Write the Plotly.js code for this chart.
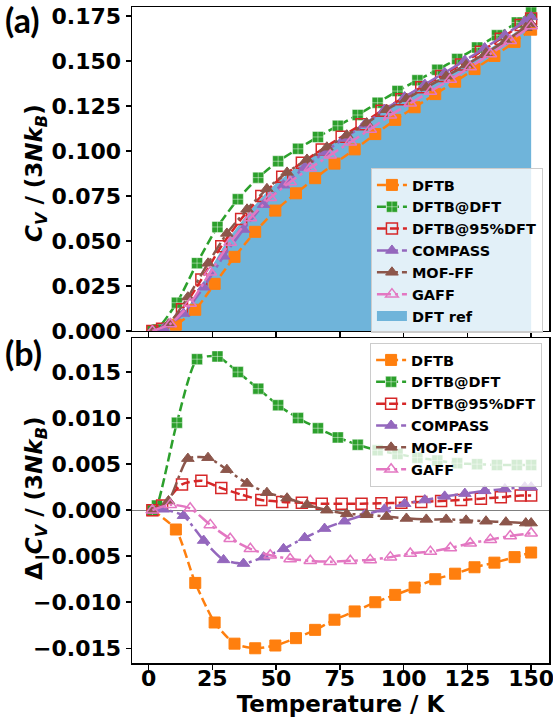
<!DOCTYPE html>
<html><head><meta charset="utf-8">
<script src="https://cdn.plot.ly/plotly-3.0.1.min.js"></script>
<style>html,body{margin:0;padding:0;background:#fff}#chart{width:553px;height:717px}</style>
</head><body><div id="chart"></div>
<script>
// ---------- data ----------
const xTicks = [0, 25, 50, 75, 100, 125, 150];
const cvTicks = [0, 0.025, 0.05, 0.075, 0.1, 0.125, 0.15, 0.175];
const dcvTicks = [-0.015, -0.01, -0.005, 0, 0.005, 0.01, 0.015];

const seriesNames = ['DFTB', 'DFTB@DFT', 'DFTB@95%DFT', 'COMPASS', 'MOF-FF', 'GAFF'];
const refName = 'DFT ref';
const xTitle = 'Temperature / K';
const yTitleTop = '<i>C</i><sub><i>V</i></sub> / (3<i>Nk</i><sub><i>B</i></sub>)';
const yTitleBottom = 'Δ <i>C</i><sub><i>V</i></sub> / (3<i>Nk</i><sub><i>B</i></sub>)';

// DFT reference heat capacity
const T_ref = [1.5, 5, 10, 15, 20, 25, 30, 35, 40, 45, 50, 55, 60, 65, 70, 75, 80, 85, 90, 95, 100, 105, 110, 115, 120, 125, 130, 135, 140, 145, 150];
const cv_ref = [0, 0.0006, 0.0045, 0.0123, 0.0235, 0.0362, 0.0484, 0.0582, 0.0672, 0.0752, 0.0820, 0.0876, 0.0926, 0.0976, 0.1022, 0.1068, 0.1112, 0.1158, 0.1203, 0.1248, 0.1291, 0.1333, 0.1372, 0.1411, 0.1452, 0.1493, 0.1535, 0.1580, 0.1625, 0.1670, 0.1720];

// DFTB
const T_dftb = [1.5, 10.7, 18.3, 25.9, 33.7, 41.8, 49.7, 57.8, 65.3, 72.9, 80.8, 88.9, 96.7, 104.3, 112.4, 120.2, 127.8, 135.6, 143.5, 150];
const cv_dftb = [0, 0.0035, 0.0118, 0.0262, 0.0412, 0.0551, 0.0669, 0.0765, 0.0849, 0.0930, 0.1009, 0.1094, 0.1173, 0.1243, 0.1316, 0.1385, 0.1455, 0.1528, 0.1606, 0.1674];
const dcv_dftb = [0, -0.0021, -0.0079, -0.0122, -0.0145, -0.0150, -0.0147, -0.0139, -0.0130, -0.0119, -0.0110, -0.0100, -0.0092, -0.0084, -0.0075, -0.0069, -0.0062, -0.0057, -0.0051, -0.0046];

// DFTB@DFT
const T_dftbdft = [1.5, 3.3, 11.1, 19.0, 27.0, 35.0, 43.0, 50.8, 58.6, 66.4, 74.2, 82.0, 89.8, 97.6, 105.4, 113.2, 121.0, 128.8, 136.6, 144.4, 150];
const cv_dftbdft = [0, 0.0008, 0.0157, 0.0377, 0.0578, 0.0732, 0.0852, 0.0943, 0.1012, 0.1078, 0.1140, 0.1200, 0.1268, 0.1333, 0.1393, 0.1451, 0.1511, 0.1575, 0.1643, 0.1714, 0.1769];
const dcv_dftbdft = [0, 0.0005, 0.0095, 0.0164, 0.0167, 0.0150, 0.0132, 0.0114, 0.0100, 0.0089, 0.0079, 0.0071, 0.0065, 0.0061, 0.0057, 0.0054, 0.0051, 0.0050, 0.0049, 0.0049, 0.0049];

// DFTB@95%DFT
const T_dftb95 = [1.5, 5.3, 13.1, 20.7, 28.5, 36.3, 44.2, 52.4, 60.1, 67.9, 75.7, 83.5, 91.3, 99.1, 106.9, 114.7, 122.5, 130.3, 138.1, 145.9, 150];
const cv_dftb95 = [0, 0.0013, 0.0121, 0.0286, 0.0471, 0.0622, 0.0750, 0.0857, 0.0935, 0.1008, 0.1079, 0.1148, 0.1224, 0.1288, 0.1354, 0.1416, 0.1481, 0.1552, 0.1624, 0.1700, 0.1736];
const dcv_dftb95 = [0, 0.0005, 0.0028, 0.0032, 0.0024, 0.0017, 0.0011, 0.0009, 0.0008, 0.0007, 0.0007, 0.0007, 0.00075, 0.0008, 0.0009, 0.0010, 0.0011, 0.00125, 0.0014, 0.0016, 0.0016];

// COMPASS
const T_compass = [1.5, 5.8, 13.7, 21.6, 29.4, 37.2, 45.1, 52.9, 61.2, 69.0, 76.8, 84.7, 92.5, 100.4, 108.3, 116.1, 124.0, 131.8, 139.7, 147.5, 150];
const cv_compass = [0, 0.0013, 0.0097, 0.0243, 0.0415, 0.0564, 0.0702, 0.0810, 0.0908, 0.0993, 0.1072, 0.1147, 0.1230, 0.1300, 0.1370, 0.1435, 0.1503, 0.1572, 0.1645, 0.1720, 0.1745];
const dcv_compass = [0, 0.0001, -0.0006, -0.0033, -0.0054, -0.0058, -0.0051, -0.0042, -0.0030, -0.0020, -0.0012, -0.0005, 0.0001, 0.0007, 0.0011, 0.0015, 0.0018, 0.0021, 0.0023, 0.0025, 0.0025];

// MOF-FF
const T_moff = [1.5, 7.8, 15.4, 23.3, 30.7, 38.6, 46.4, 54.3, 62.1, 69.9, 77.7, 85.5, 93.3, 101.1, 108.9, 116.7, 124.5, 132.3, 140.1, 147.9, 150];
const cv_moff = [0, 0.0038, 0.0188, 0.0376, 0.0542, 0.0676, 0.0790, 0.0881, 0.0953, 0.1021, 0.1088, 0.1155, 0.1229, 0.1290, 0.1353, 0.1415, 0.1478, 0.1544, 0.1613, 0.1685, 0.1706];
const dcv_moff = [0, 0.0010, 0.0056, 0.0057, 0.0044, 0.0029, 0.0019, 0.0013, 0.0006, 0.0000, -0.0004, -0.0005, -0.0007, -0.0009, -0.0010, -0.0010, -0.0011, -0.0012, -0.0013, -0.0014, -0.0014];

// GAFF
const T_gaff = [1.5, 8.5, 16.3, 24.2, 32.0, 39.9, 47.7, 55.5, 63.4, 71.2, 79.1, 86.9, 94.8, 102.6, 110.5, 118.3, 126.1, 134.0, 141.8, 150];
const cv_gaff = [0, 0.0039, 0.0153, 0.0326, 0.0492, 0.0628, 0.0740, 0.0828, 0.0905, 0.0977, 0.1049, 0.1120, 0.1199, 0.1265, 0.1331, 0.1397, 0.1466, 0.1539, 0.1613, 0.1695];
const dcv_gaff = [0, 0.0006, 0.0002, -0.0016, -0.0031, -0.0042, -0.0049, -0.0053, -0.0055, -0.0056, -0.0055, -0.0054, -0.0051, -0.0047, -0.0045, -0.0041, -0.0036, -0.0032, -0.0028, -0.0025];

// ---------- styles ----------
const T_all = [T_dftb, T_dftbdft, T_dftb95, T_compass, T_moff, T_gaff];
const cv_all = [cv_dftb, cv_dftbdft, cv_dftb95, cv_compass, cv_moff, cv_gaff];
const dcv_all = [dcv_dftb, dcv_dftbdft, dcv_dftb95, dcv_compass, dcv_moff, dcv_gaff];
const colors = ['#ff7f0e', '#2ca02c', '#d62728', '#9467bd', '#8c564b', '#e377c2'];
const symbols = ['square', 'square-cross', 'square-open', 'triangle-up', 'triangle-up', 'triangle-up-open'];
const dashes = ['9px,4px', '9px,4px', '9px,4px', '14px,4px,3px,4px', '14px,4px,3px,4px', '14px,4px,3px,4px'];
const refColor = 'rgb(111,180,218)';
const FAM = 'DejaVu Sans';

function markerFor(i) {
  const s = symbols[i];
  if (s.endsWith('-open')) return {symbol: s, size: 11, color: colors[i], line: {color: colors[i], width: 1.5}};
  if (s === 'square-cross') return {symbol: s, size: 11, color: colors[i], line: {color: 'rgba(255,255,255,0.75)', width: 0.6}};
  return {symbol: s, size: 11, color: colors[i], line: {color: colors[i], width: 1}};
}

const traces = [];
traces.push({
  x: T_ref, y: cv_ref, xaxis: 'x2', yaxis: 'y2', mode: 'lines', fill: 'tozeroy',
  fillcolor: refColor, line: {width: 0, shape: 'spline', smoothing: 0.6}, showlegend: false, hoverinfo: 'skip'
});
for (let i = 0; i < seriesNames.length; i++) {
  traces.push({
    x: T_all[i], y: cv_all[i], xaxis: 'x2', yaxis: 'y2', mode: 'lines+markers', name: seriesNames[i],
    legend: 'legend', legendrank: i + 1,
    line: {color: colors[i], width: 2.5, dash: dashes[i], shape: 'spline', smoothing: 0.6},
    marker: markerFor(i)
  });
}
traces.push({
  x: [null], y: [null], xaxis: 'x2', yaxis: 'y2', mode: 'lines', name: refName,
  legend: 'legend', legendrank: 7, line: {color: refColor, width: 14}
});
for (let i = 0; i < seriesNames.length; i++) {
  traces.push({
    x: T_all[i], y: dcv_all[i], xaxis: 'x', yaxis: 'y', mode: 'lines+markers', name: seriesNames[i],
    legend: 'legend2', legendrank: i + 1,
    line: {color: colors[i], width: 2.5, dash: dashes[i], shape: 'spline', smoothing: 0.6},
    marker: markerFor(i)
  });
}

const tickFont = {family: FAM, size: 22, weight: 700, color: 'black'};
const titleFont = {family: FAM, size: 23, weight: 700, color: 'black'};
const axisCommon = {
  ticks: 'outside', ticklen: 5, tickwidth: 1.5, tickcolor: 'black',
  showline: true, mirror: true, linecolor: 'black', linewidth: 1.5,
  showgrid: false, tickfont: tickFont, ticklabeloverflow: 'allow'
};
const legendCommon = {
  xanchor: 'left', yanchor: 'top', bgcolor: 'rgba(255,255,255,0.8)',
  bordercolor: '#cccccc', borderwidth: 1,
  font: {family: FAM, size: 14.5, weight: 700, color: 'black'}
};

const layout = {
  width: 553, height: 717,
  margin: {l: 132, r: 4, t: 7, b: 54, autoexpand: false},
  paper_bgcolor: 'white', plot_bgcolor: 'white',
  font: {family: FAM, color: 'black'},
  xaxis: Object.assign({}, axisCommon, {
    domain: [0, 1], anchor: 'y', range: [-6.5, 157], tickvals: xTicks, zeroline: false,
    ticklabelstandoff: -10,
    title: {text: xTitle, font: titleFont, standoff: 0}
  }),
  xaxis2: Object.assign({}, axisCommon, {
    domain: [0, 1], anchor: 'y2', range: [-6.5, 157], tickvals: xTicks, zeroline: false,
    showticklabels: false
  }),
  yaxis: Object.assign({}, axisCommon, {
    domain: [0, 0.4954], anchor: 'x', range: [-0.0166, 0.0187], tickvals: dcvTicks, tickformat: '.3f',
    zeroline: true, zerolinecolor: '#808080', zerolinewidth: 1.2
  }),
  yaxis2: Object.assign({}, axisCommon, {
    domain: [0.5061, 1], anchor: 'x2', range: [0, 0.18], tickvals: cvTicks, tickformat: '.3f',
    zeroline: false
  }),
  legend: Object.assign({}, legendCommon, {x: 0.573, y: 0.7546}),
  legend2: Object.assign({}, legendCommon, {x: 0.571, y: 0.4878}),
  annotations: [
    {text: yTitleTop, xref: 'paper', yref: 'paper', x: -0.2302, y: 0.747, xanchor: 'center', yanchor: 'middle',
     textangle: -90, showarrow: false, font: titleFont},
    {text: yTitleBottom, xref: 'paper', yref: 'paper', x: -0.2302, y: 0.25, xanchor: 'center', yanchor: 'middle',
     textangle: -90, showarrow: false, font: titleFont},
    {text: '(a)', xref: 'paper', yref: 'paper', x: -0.3094, y: 0.9802, xanchor: 'left', yanchor: 'middle',
     showarrow: false, font: {family: 'Lato', size: 34, weight: 700, color: 'black'}},
    {text: '(b)', xref: 'paper', yref: 'paper', x: -0.3094, y: 0.474, xanchor: 'left', yanchor: 'middle',
     showarrow: false, font: {family: 'Lato', size: 34, weight: 700, color: 'black'}}
  ]
};

Plotly.newPlot('chart', traces, layout, {displayModeBar: false, staticPlot: true});
</script></body></html>
